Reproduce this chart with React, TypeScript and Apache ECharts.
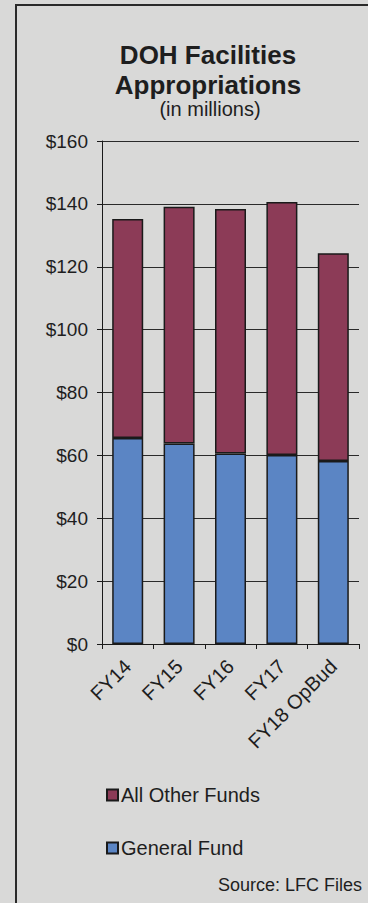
import React, { useEffect, useRef } from "react";
import * as echarts from "echarts";

const categories = ["FY14", "FY15", "FY16", "FY17", "FY18 OpBud"];
const generalFund = [65.5, 63.8, 60.6, 60.1, 58.2];
const allOtherFunds = [69.7, 75.3, 77.8, 80.5, 66.1];
const yTicks = { min: 0, max: 160, interval: 20 };

const FONT = "'Liberation Sans', Arial, sans-serif";

export default function App() {
  const ref = useRef<HTMLDivElement>(null);
  useEffect(() => {
    if (!ref.current) return;
    const chart = echarts.init(ref.current, undefined, { renderer: "svg" });
    chart.setOption({
      animation: false,
      backgroundColor: "#d9d9d8",
      textStyle: { fontFamily: FONT },
      graphic: [
        {
          type: "rect",
          shape: { x: 16, y: 5, width: 400, height: 950 },
          style: { fill: "none", stroke: "#2a2a2a", lineWidth: 2 },
          silent: true,
        },
        {
          type: "text",
          x: 208,
          y: 55,
          style: {
            text: "DOH Facilities",
            font: `bold 26px ${FONT}`,
            fill: "#1e1e1e",
            textAlign: "center",
            textVerticalAlign: "middle",
          },
        },
        {
          type: "text",
          x: 208,
          y: 85,
          style: {
            text: "Appropriations",
            font: `bold 26px ${FONT}`,
            fill: "#1e1e1e",
            textAlign: "center",
            textVerticalAlign: "middle",
          },
        },
        {
          type: "text",
          x: 210,
          y: 109,
          style: {
            text: "(in millions)",
            font: `20px ${FONT}`,
            fill: "#1e1e1e",
            textAlign: "center",
            textVerticalAlign: "middle",
          },
        },
        {
          type: "text",
          x: 362,
          y: 885,
          style: {
            text: "Source: LFC Files",
            font: `18px ${FONT}`,
            fill: "#1e1e1e",
            textAlign: "right",
            textVerticalAlign: "middle",
          },
        },
      ],
      legend: {
        data: ["All Other Funds", "General Fund"],
        orient: "vertical",
        left: 101,
        top: 780,
        itemWidth: 11,
        itemHeight: 11,
        itemGap: 33,
        icon: "rect",
        textStyle: { fontSize: 20, color: "#1e1e1e", fontFamily: FONT, padding: [0, 0, 0, -2] },
      },
      grid: { left: 102, right: 9, top: 141, bottom: 259, containLabel: false },
      xAxis: {
        type: "category",
        data: categories,
        axisLine: { lineStyle: { color: "#1a1a1a", width: 1 } },
        axisTick: { show: true, length: 5, lineStyle: { color: "#1a1a1a" } },
        axisLabel: {
          rotate: 45,
          margin: 19,
          fontSize: 20,
          color: "#1e1e1e",
          fontFamily: FONT,
          interval: 0,
        },
      },
      yAxis: {
        type: "value",
        min: yTicks.min,
        max: yTicks.max,
        interval: yTicks.interval,
        axisLine: { show: true, lineStyle: { color: "#1a1a1a", width: 1 } },
        axisTick: { show: true, length: 5, lineStyle: { color: "#1a1a1a" } },
        axisLabel: {
          formatter: (v: number) => "$" + v,
          margin: 14,
          fontSize: 19,
          color: "#1e1e1e",
          fontFamily: FONT,
        },
        splitLine: { show: true, lineStyle: { color: "#2a2a2a", width: 1 } },
      },
      series: [
        {
          name: "General Fund",
          type: "bar",
          stack: "total",
          barWidth: 31,
          data: generalFund,
          itemStyle: { color: "#5b85c4", borderColor: "#1a1a1a", borderWidth: 1.5 },
        },
        {
          name: "All Other Funds",
          type: "bar",
          stack: "total",
          barWidth: 31,
          data: allOtherFunds,
          itemStyle: { color: "#8c3b57", borderColor: "#1a1a1a", borderWidth: 1.5 },
        },
      ],
    });
    return () => chart.dispose();
  }, []);
  return (
    <div
      ref={ref}
      style={{ position: "fixed", left: 0, top: 0, width: 368, height: 903 }}
    />
  );
}
